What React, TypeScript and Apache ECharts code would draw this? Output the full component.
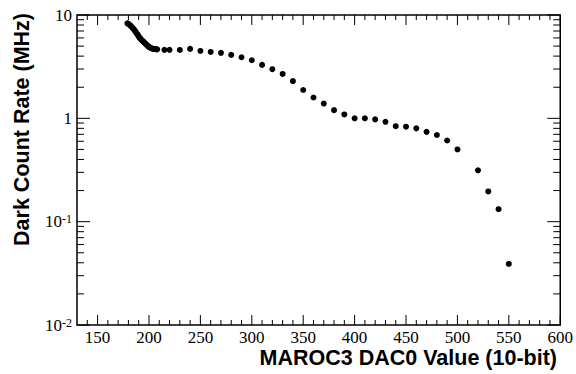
import React, { useEffect, useRef } from "react";
import * as echarts from "echarts";

// Dense threshold scan near the pedestal
const clusterX = [179, 180, 181, 182, 183, 184, 185, 186, 187, 188, 189, 190, 191, 192, 193, 194, 195, 196, 197, 198, 199, 200, 201, 202, 203, 204, 205, 206, 207, 208];
const clusterY = [8.3, 8.2, 8.05, 7.9, 7.72, 7.52, 7.35, 7.1, 6.88, 6.65, 6.45, 6.2, 6.0, 5.85, 5.7, 5.58, 5.47, 5.35, 5.22, 5.1, 5.0, 4.92, 4.85, 4.79, 4.74, 4.71, 4.69, 4.67, 4.66, 4.65];

// Coarse scan
const scanX = [215, 220, 230, 240, 250, 260, 270, 280, 290, 300, 310, 320, 330, 340, 350, 360, 370, 380, 390, 400, 410, 420, 430, 440, 450, 460, 470, 480, 490, 500, 520, 530, 540, 550];
const scanY = [4.6, 4.6, 4.59, 4.7, 4.49, 4.39, 4.3, 4.11, 3.9, 3.65, 3.29, 2.99, 2.69, 2.29, 1.88, 1.59, 1.39, 1.2, 1.09, 1.0, 1.0, 0.977, 0.925, 0.84, 0.83, 0.8, 0.74, 0.69, 0.61, 0.5, 0.314, 0.196, 0.132, 0.039];

const xTickLabels = [150, 200, 250, 300, 350, 400, 450, 500, 550, 600];
const yTickLabels = [0.01, 0.1, 1, 10];

const X_MIN = 130;
const X_MAX = 600;
const Y_MIN = 0.01;
const Y_MAX = 10;

const xTitle = "MAROC3 DAC0 Value (10-bit)";
const yTitle = "Dark Count Rate (MHz)";

export default function App() {
  const ref = useRef<HTMLDivElement>(null);

  useEffect(() => {
    if (!ref.current) return;
    const chart = echarts.init(ref.current, null, { renderer: "svg" });

    const points: number[][] = [];
    clusterX.forEach((x, i) => points.push([x, clusterY[i]]));
    scanX.forEach((x, i) => points.push([x, scanY[i]]));

    const xMinor: number[] = [];
    for (let v = X_MIN + 10; v < X_MAX; v += 10) {
      if (v % 50 !== 0) xMinor.push(v);
    }
    const yMinor: number[] = [];
    for (let d = 0; d < yTickLabels.length - 1; d++) {
      for (let k = 2; k <= 9; k++) yMinor.push(k * yTickLabels[d]);
    }

    const serif = '"Liberation Serif", "DejaVu Serif", serif';
    const sans = '"Liberation Sans", Arial, sans-serif';

    const renderTicks = (params: any, api: any) => {
      const bl = api.coord([X_MIN, Y_MIN]);
      const tr = api.coord([X_MAX, Y_MAX]);
      const x0 = bl[0], y0 = bl[1], x1 = tr[0], y1 = tr[1];
      const children: any[] = [];
      const ln = (a: number, b: number, c: number, d: number) => ({
        type: "line",
        shape: { x1: a, y1: b, x2: c, y2: d },
        style: { stroke: "#000", lineWidth: 1 },
        silent: true,
      });
      const addX = (v: number, len: number) => {
        const x = api.coord([v, Y_MIN])[0];
        children.push(ln(x, y0, x, y0 - len));
        children.push(ln(x, y1, x, y1 + len));
      };
      const addY = (v: number, len: number) => {
        const y = api.coord([X_MIN, v])[1];
        children.push(ln(x0, y, x0 + len, y));
        children.push(ln(x1, y, x1 - len, y));
      };
      xTickLabels.forEach((v) => addX(v, 10));
      xMinor.forEach((v) => addX(v, 5));
      yTickLabels.forEach((v) => addY(v, 13));
      yMinor.forEach((v) => addY(v, 7));
      return { type: "group", children };
    };

    chart.setOption({
      animation: false,
      backgroundColor: "#fff",
      grid: {
        left: 77,
        top: 15,
        width: 487,
        height: 310,
        show: true,
        borderColor: "#000",
        borderWidth: 1.5,
        backgroundColor: "transparent",
      },
      xAxis: {
        type: "value",
        min: X_MIN,
        max: X_MAX,
        interval: 10,
        axisLine: { show: false },
        axisTick: { show: false },
        splitLine: { show: false },
        axisLabel: {
          margin: 4,
          color: "#000",
          fontFamily: serif,
          fontSize: 17,
          formatter: (v: number) => (xTickLabels.indexOf(v) >= 0 ? String(v) : ""),
        },
      },
      yAxis: {
        type: "log",
        logBase: 10,
        min: Y_MIN,
        max: Y_MAX,
        axisLine: { show: false },
        axisTick: { show: false },
        splitLine: { show: false },
        axisLabel: {
          margin: 5,
          color: "#000",
          formatter: (v: number) => {
            const e = Math.round(Math.log10(v));
            if (e >= 0) return "{b|" + String(Math.round(v)) + "}";
            return "{b|10}{s|" + e + "}";
          },
          rich: {
            b: { fontFamily: serif, fontSize: 17, color: "#000" },
            s: { fontFamily: serif, fontSize: 12, color: "#000", verticalAlign: "top" },
          },
        },
      },
      graphic: [
        {
          type: "text",
          x: 557,
          y: 358,
          style: {
            text: xTitle,
            fontFamily: sans,
            fontWeight: "bold",
            fontSize: 21.5,
            fill: "#000",
            align: "right",
            verticalAlign: "middle",
          },
        },
        {
          type: "text",
          x: 22,
          y: 13,
          rotation: Math.PI / 2,
          style: {
            text: yTitle,
            fontFamily: sans,
            fontWeight: "bold",
            fontSize: 21.5,
            fill: "#000",
            align: "right",
            verticalAlign: "middle",
          },
        },
      ],
      series: [
        {
          type: "custom",
          renderItem: renderTicks,
          data: [[X_MIN, Y_MIN]],
          silent: true,
          z: 5,
        },
        {
          type: "scatter",
          data: points,
          symbol: "circle",
          symbolSize: 6,
          itemStyle: { color: "#000", opacity: 1 },
          z: 10,
        },
      ],
    });

    return () => chart.dispose();
  }, []);

  return (
    <div
      ref={ref}
      style={{ position: "fixed", left: 0, top: 0, width: 576, height: 374 }}
    />
  );
}
